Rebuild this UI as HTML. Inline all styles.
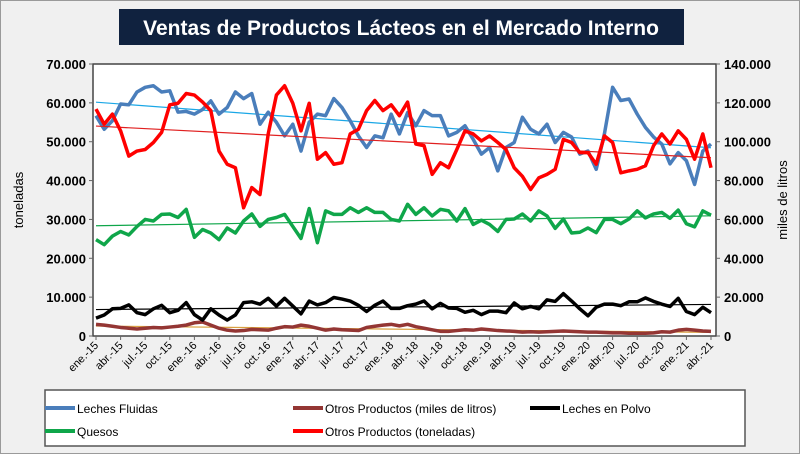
<!DOCTYPE html>
<html><head><meta charset="utf-8"><style>
body{margin:0;width:800px;height:454px;overflow:hidden;background:#fff;font-family:"Liberation Sans",sans-serif}
svg{display:block}
</style></head><body>
<svg id="chart" width="800" height="454" xmlns="http://www.w3.org/2000/svg">
<rect x="0.5" y="0.5" width="799" height="453" fill="#f0f0f0" stroke="#9a9a9a"/>
<rect x="119" y="9" width="565" height="36" fill="#10223f"/>
<text x="401" y="35" text-anchor="middle" fill="#fff" font-size="21" font-weight="bold">Ventas de Productos Lácteos en el Mercado Interno</text>
<rect x="93" y="64" width="623" height="272" fill="#fff" stroke="#444" stroke-width="1.5"/>
<text transform="translate(23,200) rotate(-90)" text-anchor="middle" font-size="13">toneladas</text>
<text transform="translate(787,200) rotate(-90)" text-anchor="middle" font-size="13">miles de litros</text>
<g id="axes"></g>
<g id="series"></g>
<rect x="45" y="390" width="700" height="56" fill="#fff" stroke="#555" stroke-width="1.5"/>
<g><line x1="45" y1="408" x2="75" y2="408" stroke="#4a7ebb" stroke-width="4"/><text x="77" y="413" font-size="12">Leches Fluidas</text></g>
<g><line x1="45" y1="431" x2="75" y2="431" stroke="#0fa64a" stroke-width="4"/><text x="77" y="436" font-size="12">Quesos</text></g>
<g><line x1="293" y1="408" x2="323" y2="408" stroke="#943634" stroke-width="4"/><text x="325" y="413" font-size="12">Otros Productos (miles de litros)</text></g>
<g><line x1="293" y1="431" x2="323" y2="431" stroke="#ff0000" stroke-width="4"/><text x="325" y="436" font-size="12">Otros Productos (toneladas)</text></g>
<g><line x1="530" y1="408" x2="560" y2="408" stroke="#000" stroke-width="4"/><text x="562" y="413" font-size="12">Leches en Polvo</text></g>
</svg>
<script>
const months=["ene.","feb.","mar.","abr.","may.","jun.","jul.","ago.","sep.","oct.","nov.","dic."];
const lechesFluidas=[56.7,53.2,55.4,59.7,59.5,62.8,64,64.4,62.8,63.1,57.6,57.8,57.1,58.3,60.5,57.1,58.8,62.8,61.1,62.4,54.5,57.6,55,51.5,54.5,47.6,55,57.1,56.7,61.1,58.8,55.4,51.5,48.5,51.5,51,57.1,52,57.5,54.1,58,56.7,56.7,51.5,52.4,54.1,50.6,46.8,48.5,42.5,48.5,49.8,56.3,53.2,52,54.5,49.8,52.4,51.2,46.8,47.6,42.9,52,64,60.6,61,57.1,53.7,51.2,49.4,44.3,47.2,45.1,39,47.6,49.4];
const otrosToneladas=[116.8,109,114.2,105.6,92.6,95.2,96,99.6,104.8,119,119.8,124.8,124,120.4,116,95.2,88.4,86.6,66,76.4,72.8,104,124,128.8,119.8,105.6,119.8,91,94.4,88.4,89.2,104,106.4,116,121.2,116,119,113.4,120.4,98.8,98,83.2,89.2,86.6,96,105.6,104,100.4,103,99.6,96,86.6,82.2,75.4,81.4,83.2,85.8,101.2,99.6,94.4,94.4,88.4,103,99.6,84,85,85.8,87.6,98,104,98.8,105.6,101.2,91,104,86.6];
const quesos=[24.8,23.5,25.7,26.9,26,28.2,30,29.6,31.3,31.4,30.5,32.6,25.4,27.4,26.5,24.8,27.8,26.5,29.6,31.4,28.2,30,30.5,31.3,28.2,25.1,32.8,24,32.2,31.3,31.3,33,31.8,33,31.8,31.8,30,29.6,33.9,31.3,33,30.9,32.6,32.2,29.6,32.8,28.7,29.8,28.7,26.9,30,30.1,31.4,29.6,32.2,30.9,27.7,30.1,26.5,26.7,27.8,26.6,30,30,28.9,30.1,32.2,30.4,31.4,31.8,30.3,32.4,28.9,28.1,32.2,31.1];
const lechesPolvo=[4.6,5.4,7,7.1,8,6,5.5,7,7.9,6,6.6,8.6,5.5,4.1,7,5.4,4.1,5.4,8.6,8.8,8.2,9.7,7.7,9.7,7.7,5.7,9,8,8.6,9.9,9.5,9,7.9,6.3,7.9,9,7.1,7.1,7.8,8.2,9,7,8.4,7.2,7.1,6.1,6.6,5.5,6.4,6.4,6,8.5,7,7.6,7,9.3,8.9,10.9,9,7,5.2,7.4,8.2,8.2,7.8,8.8,8.8,9.8,8.9,8.2,7.6,9.7,6.3,5.5,7.4,6];
const otrosLitros=[6.0,5.6,5.0,4.4,4.0,3.6,4.0,4.4,4.2,4.6,5.0,5.6,6.8,7.2,5.6,4.0,3.0,2.6,2.8,3.4,3.2,3.0,4.0,4.8,4.6,5.6,5.0,4.0,3.0,3.6,3.2,3.0,2.8,4.4,5.0,5.6,6.0,5.2,6.0,4.8,4.0,3.2,2.4,2.4,2.8,3.2,3.0,3.6,3.2,2.8,2.6,2.4,2.0,2.2,2.0,2.2,2.4,2.6,2.4,2.2,2.0,2.0,1.8,1.6,1.6,1.4,1.4,1.4,1.6,2.2,2.0,3.0,3.4,3.0,2.6,2.4];
const leftTicks=["0","10.000","20.000","30.000","40.000","50.000","60.000","70.000"];
const rightTicks=["0","20.000","40.000","60.000","80.000","100.000","120.000","140.000"];
const NS="http://www.w3.org/2000/svg";
const X0=96,X1=711,Y0=336,Y1=64,N=lechesFluidas.length;
const xs=i=>X0+(X1-X0)*i/(N-1);
const yl=v=>Y0-(Y0-Y1)*v/70;
const yr=v=>Y0-(Y0-Y1)*v/140;
const axes=document.getElementById('axes'),ser=document.getElementById('series');
function mk(t,a,p){const e=document.createElementNS(NS,t);for(const k in a)e.setAttribute(k,a[k]);p.appendChild(e);return e;}
leftTicks.forEach((t,i)=>{const y=yl(i*10);
 const e=mk('text',{x:86,y:y+5,'text-anchor':'end','font-size':13,'font-weight':'bold'},axes);e.textContent=t;
 
 
 mk('line',{x1:89,x2:93,y1:y,y2:y,stroke:'#666'},axes);
});
rightTicks.forEach((t,i)=>{const y=yr(i*20);
 const e=mk('text',{x:724,y:y+5,'text-anchor':'start','font-size':13,'font-weight':'bold'},axes);e.textContent=t;
 
 
 mk('line',{x1:716,x2:720,y1:y,y2:y,stroke:'#666'},axes);
});
for(let i=0;i<N;i+=3){const x=xs(i);
 mk('line',{x1:x,x2:x,y1:336,y2:340,stroke:'#666'},axes);
 const lab=months[i%12]+"-"+(15+Math.floor(i/12));
 const e=mk('text',{transform:`translate(${x+3},${346}) rotate(-45)`,'text-anchor':'end','font-size':11},axes);e.textContent=lab;
 
 
}
function trend(d){let n=d.length,sx=0,sy=0,sxy=0,sxx=0;d.forEach((v,i)=>{sx+=i;sy+=v;sxy+=i*v;sxx+=i*i});const b=(n*sxy-sx*sy)/(n*sxx-sx*sx);return [(sy-b*sx)/n,b];}
function draw(d,yf,color,name,tcolor){
 const [a,b]=trend(d);
 const t=mk('line',{x1:xs(0),y1:yf(a),x2:xs(N-1),y2:yf(a+b*(N-1)),stroke:tcolor,'stroke-width':1.2},ser);
 
 
 const p=mk('polyline',{points:d.map((v,i)=>xs(i)+','+yf(v)).join(' '),fill:'none',stroke:color,'stroke-width':3.5,'stroke-linejoin':'round'},ser);
 
 
}
draw(otrosLitros,yr,'#943634','otros-productos-litros','#d9a040');
draw(lechesPolvo,yl,'#000','leches-en-polvo','#000');
draw(quesos,yl,'#0fa64a','quesos','#0fa64a');
draw(lechesFluidas,yl,'#4a7ebb','leches-fluidas','#1aa7e6');
draw(otrosToneladas,yr,'#ff0000','otros-productos-toneladas','#e02020');
</script>
</body></html>
